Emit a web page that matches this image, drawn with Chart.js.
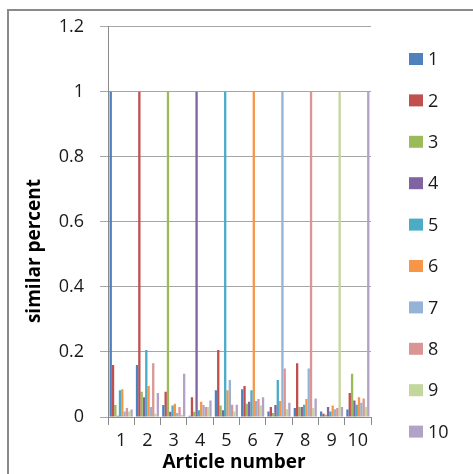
<!DOCTYPE html>
<html>
<head>
<meta charset="utf-8">
<script src="https://cdn.jsdelivr.net/npm/chart.js@4"></script>
<style>
  html, body { margin: 0; padding: 0; background: #fff; }
  #wrap { position: relative; width: 473px; height: 474px; overflow: hidden; }
  #frame { position: absolute; left: 7px; top: 9px; width: 600px; height: 600px;
           border-left: 2px solid #8a8a8a; border-top: 2px solid #8a8a8a; }
  canvas { position: absolute; left: 0; top: 0; }
</style>
</head>
<body>
<div id="wrap">
  <div id="frame"></div>
  <canvas id="chart" width="473" height="474"></canvas>
</div>
<script>
// ─── DATA ─────────────────────────────────────────────────
const articles = ['1', '2', '3', '4', '5', '6', '7', '8', '9', '10'];
const yTicks = [0, 0.2, 0.4, 0.6, 0.8, 1, 1.2];

const series1  = [1, 0.16, 0.037, 0.004, 0.082, 0.085, 0.017, 0.028, 0.017, 0.023];
const series2  = [0.16, 1, 0.078, 0.061, 0.206, 0.095, 0.031, 0.165, 0.01, 0.074];
const series3  = [0.037, 0.078, 1, 0.016, 0.035, 0.041, 0.012, 0.031, 0.007, 0.133];
const series4  = [0.004, 0.061, 0.016, 1, 0.021, 0.047, 0.037, 0.031, 0.031, 0.051];
const series5  = [0.082, 0.206, 0.035, 0.021, 1, 0.082, 0.114, 0.038, 0.017, 0.038];
const series6  = [0.085, 0.095, 0.041, 0.047, 0.082, 1, 0.049, 0.055, 0.035, 0.061];
const series7  = [0.017, 0.031, 0.012, 0.037, 0.114, 0.049, 1, 0.149, 0.024, 0.044];
const series8  = [0.028, 0.165, 0.031, 0.031, 0.038, 0.055, 0.149, 1, 0.028, 0.057];
const series9  = [0.017, 0.01, 0.007, 0.031, 0.017, 0.035, 0.024, 0.028, 1, 0.031];
const series10 = [0.023, 0.074, 0.133, 0.051, 0.038, 0.061, 0.044, 0.057, 0.031, 1];

const seriesNames = ['1', '2', '3', '4', '5', '6', '7', '8', '9', '10'];
const seriesData = [series1, series2, series3, series4, series5, series6, series7, series8, series9, series10];
const colors = ['#4f81bd', '#c0504d', '#9bbb59', '#8064a2', '#4bacc6',
                '#f79646', '#95b3d7', '#da9694', '#c3d69b', '#b2a2c7'];

const FONT = '"Open Sans", "DejaVu Sans", sans-serif';

// ─── LEGEND + AXIS TITLES ─────────────────────────────────
const extras = {
  id: 'extras',
  afterDraw(chart) {
    const c = chart.ctx;
    const area = chart.chartArea;
    c.save();
    // legend
    c.font = '18px ' + FONT;
    c.textBaseline = 'middle';
    c.textAlign = 'left';
    chart.data.datasets.forEach((ds, i) => {
      const y = 59 + i * 41.4;
      c.fillStyle = ds.backgroundColor;
      c.fillRect(409, y - 6, 14, 12);
      c.fillStyle = '#1a1a1a';
      c.fillText(ds.label, 428, y + 1);
    });
    // axis titles
    c.fillStyle = '#000';
    c.font = 'bold 19px ' + FONT;
    c.textAlign = 'center';
    c.fillText('Article number', 234, 463);
    c.translate(area.left - 73, 251);
    c.rotate(-Math.PI / 2);
    c.fillText('similar percent', 0, 0);
    c.restore();
  }
};

// ─── CHART ────────────────────────────────────────────────
const ctx = document.getElementById('chart').getContext('2d');
new Chart(ctx, {
  type: 'bar',
  data: {
    labels: articles,
    datasets: seriesData.map((d, i) => ({
      label: seriesNames[i],
      data: d,
      backgroundColor: colors[i],
      borderWidth: 0,
      categoryPercentage: 0.88,
      barPercentage: 1,
    }))
  },
  options: {
    responsive: false,
    animation: false,
    layout: { padding: { top: 24, right: 102, left: 0, bottom: 0 } },
    plugins: {
      legend: { display: false },
      tooltip: { enabled: false }
    },
    scales: {
      x: {
        afterFit: s => { s.height = 57; },
        grid: { offset: true, drawOnChartArea: false, color: '#8a8a8a', tickLength: 8 },
        border: { color: '#8a8a8a', width: 1 },
        ticks: { color: '#1a1a1a', padding: 5, font: { family: FONT, size: 18 }, maxRotation: 0, autoSkip: false }
      },
      y: {
        min: 0, max: 1.2,
        afterFit: s => { s.width = 108; },
        afterBuildTicks: s => { s.ticks = yTicks.map(v => ({ value: v })); },
        grid: { color: '#a6a6a6', tickLength: 8 },
        border: { color: '#8a8a8a', width: 1 },
        ticks: { color: '#1a1a1a', padding: 16, font: { family: FONT, size: 18 },
                 callback: v => String(Math.round(v * 10) / 10) }
      }
    }
  },
  plugins: [extras]
});
</script>
</body>
</html>
